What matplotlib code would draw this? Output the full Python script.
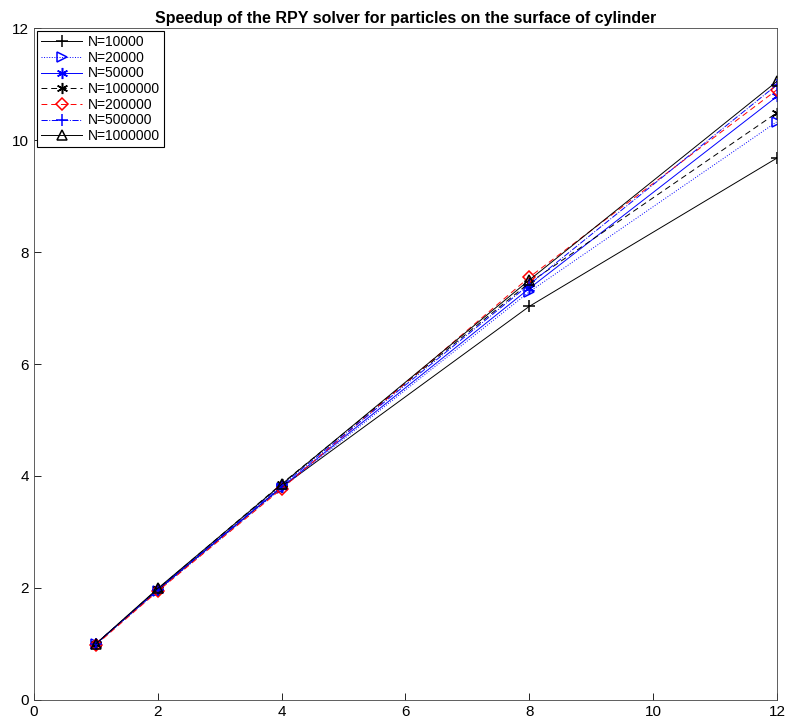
import numpy as np
from matplotlib import pyplot as plt

plt.rcParams['font.family'] = ['Liberation Sans', 'DejaVu Sans']

threads = [1, 2, 4, 8, 12]
labels = ['N=10000', 'N=20000', 'N=50000', 'N=1000000',
          'N=200000', 'N=500000', 'N=1000000']
speedup = [
    [1.0, 1.96, 3.80, 7.03, 9.68],
    [0.99, 1.95, 3.78, 7.29, 10.33],
    [1.0, 1.97, 3.80, 7.35, 10.78],
    [1.0, 1.98, 3.86, 7.45, 10.49],
    [0.98, 1.94, 3.77, 7.55, 10.90],
    [1.0, 1.97, 3.83, 7.42, 10.99],
    [1.0, 1.99, 3.85, 7.50, 11.05],
]
star = (6, 2, 0)  # matlab-like asterisk
styles = [
    dict(color='k', ls='-', marker='+', ms=9),
    dict(color='b', ls=':', marker='>', mfc='none', ms=7),
    dict(color='b', ls='-', marker=star, ms=8),
    dict(color='k', ls=(0, (6, 4)), marker=star, ms=8),
    dict(color='r', ls=(0, (6, 4)), marker='D', mfc='none', ms=6),
    dict(color='b', ls='-.', marker='+', ms=9),
    dict(color='k', ls='-', marker='^', mfc='none', ms=7),
]


def main():
    fig = plt.figure(figsize=(7.88, 7.23), dpi=100)
    ax = fig.add_axes([0.043, 0.032, 0.943, 0.929])
    for lab, ys, st in zip(labels, speedup, styles):
        ax.plot(threads, ys, label=lab, lw=0.7, mew=1.1, **st)

    ax.set_xlim(0, 12)
    ax.set_ylim(0, 12)
    ax.set_xticks(np.arange(0, 13, 2))
    ax.set_yticks(np.arange(0, 13, 2))
    ax.tick_params(direction='in', length=5, labelsize=11, width=0.6)
    for s in ax.spines.values():
        s.set_linewidth(0.6)
        s.set_color('#444444')
    ax.set_title('Speedup of the RPY solver for particles on the surface of cylinder',
                 fontsize=11.5, fontweight='bold', pad=4)
    leg = ax.legend(loc='upper left', fontsize=10, fancybox=False,
                    edgecolor='k', framealpha=1, borderpad=0.3,
                    labelspacing=0.12, handlelength=3.0, handletextpad=0.4,
                    borderaxespad=0.2)
    leg.get_frame().set_linewidth(0.8)
    fig.savefig('out.png', dpi=100)


main()
